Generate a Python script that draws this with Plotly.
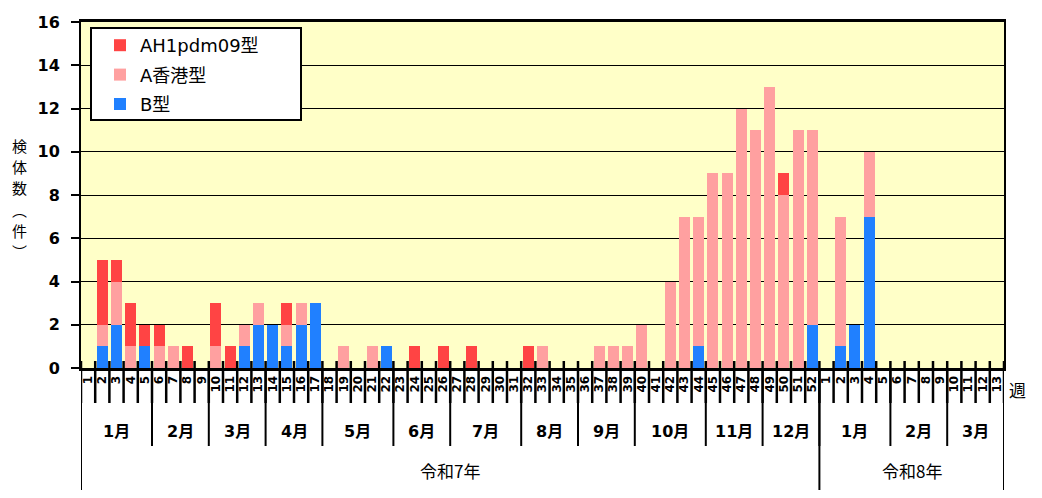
import plotly.graph_objects as go

# ---- data ----
week_labels_2025 = [str(w) for w in range(1, 53)]
week_labels_2026 = [str(w) for w in range(1, 14)]
week_labels = week_labels_2025 + week_labels_2026

B_2025 = [0, 1, 2, 0, 1, 0, 0, 0, 0, 0,
          0, 1, 2, 2, 1, 2, 3, 0, 0, 0,
          0, 1, 0, 0, 0, 0, 0, 0, 0, 0,
          0, 0, 0, 0, 0, 0, 0, 0, 0, 0,
          0, 0, 0, 1, 0, 0, 0, 0, 0, 0,
          0, 2]
HK_2025 = [0, 1, 2, 1, 0, 1, 1, 0, 0, 1,
           0, 1, 1, 0, 1, 1, 0, 0, 1, 0,
           1, 0, 0, 0, 0, 0, 0, 0, 0, 0,
           0, 0, 1, 0, 0, 0, 1, 1, 1, 2,
           0, 4, 7, 6, 9, 9, 12, 11, 13, 8,
           11, 9]
H1_2025 = [0, 3, 1, 2, 1, 1, 0, 1, 0, 2,
           1, 0, 0, 0, 1, 0, 0, 0, 0, 0,
           0, 0, 0, 1, 0, 1, 0, 1, 0, 0,
           0, 1, 0, 0, 0, 0, 0, 0, 0, 0,
           0, 0, 0, 0, 0, 0, 0, 0, 0, 1,
           0, 0]
B_2026 = [0, 1, 2, 7, 0, 0, 0, 0, 0, 0, 0, 0, 0]
HK_2026 = [0, 6, 0, 3, 0, 0, 0, 0, 0, 0, 0, 0, 0]
H1_2026 = [0, 0, 0, 0, 0, 0, 0, 0, 0, 0, 0, 0, 0]

B_vals = B_2025 + B_2026
HK_vals = HK_2025 + HK_2026
H1_vals = H1_2025 + H1_2026

months = [("1月", 5), ("2月", 4), ("3月", 4), ("4月", 4), ("5月", 5), ("6月", 4),
          ("7月", 5), ("8月", 4), ("9月", 4), ("10月", 5), ("11月", 4), ("12月", 4),
          ("1月", 5), ("2月", 4), ("3月", 4)]
years = [("令和7年", 52), ("令和8年", 13)]
y_title_chars = ["検", "体", "数", "︵", "件", "︶"]

series_names = ["B型", "A香港型", "AH1pdm09型"]
series_colors = ["#2080FF", "#FFA0A0", "#FF4444"]

# ---- figure ----
W, H = 1042, 498
ml, mr, mt, mb = 81, 38, 22, 130
pw, ph = W - ml - mr, H - mt - mb

xs = list(range(len(week_labels)))
fig = go.Figure()
nser = len(series_names)
for k, (name, vals, col) in enumerate(zip(series_names, [B_vals, HK_vals, H1_vals], series_colors)):
    fig.add_trace(go.Bar(x=xs, y=vals, name=name, legendgroup=f"g{k}",
                         legendrank=1000 + nser - k,
                         marker=dict(color=col, line=dict(width=0))))

JP = "Noto Sans CJK JP"
NUM = "DejaVu Sans"

shapes = []
annotations = []

def py(px_below):
    return -px_below / ph

# week separators (crossing the axis)
for i in range(len(week_labels) + 1):
    shapes.append(dict(type="line", xref="x", yref="paper", x0=i - 0.5, x1=i - 0.5,
                       y0=py(35), y1=7 / ph, line=dict(color="black", width=2.5)))
# month dividers + labels
pos = 0
for name, n in months:
    annotations.append(dict(x=pos + (n - 1) / 2, y=py(64), xref="x", yref="paper",
                            text=name, showarrow=False, yanchor="middle",
                            font=dict(family=NUM + ", " + JP, size=16, color="black", weight="bold")))
    pos += n
    shapes.append(dict(type="line", xref="x", yref="paper", x0=pos - 0.5, x1=pos - 0.5,
                       y0=py(78), y1=0, line=dict(color="black", width=2)))
# year dividers + labels
pos = 0
shapes.append(dict(type="line", xref="x", yref="paper", x0=-0.5, x1=-0.5,
                   y0=py(122), y1=0, line=dict(color="black", width=2)))
for name, n in years:
    annotations.append(dict(x=pos + (n - 1) / 2, y=py(102), xref="x", yref="paper",
                            text=name, showarrow=False, yanchor="middle",
                            font=dict(family=JP, size=17, color="black")))
    pos += n
    shapes.append(dict(type="line", xref="x", yref="paper", x0=pos - 0.5, x1=pos - 0.5,
                       y0=py(122), y1=0, line=dict(color="black", width=2)))

# legend box
lx0, ly0, lx1, ly1 = 91, 28, 301, 120
shapes.append(dict(type="rect", xref="paper", yref="paper",
                   x0=(lx0 - ml) / pw, x1=(lx1 - ml) / pw,
                   y0=1 - (ly1 - mt) / ph, y1=1 - (ly0 - mt) / ph,
                   fillcolor="white", line=dict(color="black", width=2), layer="above"))

# y axis title (vertical, one character per line)
for j, ch in enumerate(y_title_chars):
    annotations.append(dict(x=(19 - ml) / pw, y=1 - (146 + 21 * j - mt) / ph,
                            xref="paper", yref="paper", text=ch, showarrow=False,
                            xanchor="center", yanchor="middle",
                            font=dict(family=JP, size=15, color="black")))
# 週
annotations.append(dict(x=(1017 - ml) / pw, y=py(21), xref="paper", yref="paper",
                        text="週", showarrow=False, xanchor="center", yanchor="middle",
                        font=dict(family=JP, size=17, color="black")))

fig.update_layout(
    width=W, height=H,
    margin=dict(l=ml, r=mr, t=mt, b=mb, autoexpand=False),
    barmode="stack", bargap=0.23,
    paper_bgcolor="white", plot_bgcolor="#FFFFC8",
    showlegend=True,
    legend=dict(x=(100 - ml) / pw, y=1 - (27 - mt) / ph, xanchor="left", yanchor="top",
                bgcolor="rgba(0,0,0,0)", borderwidth=0, traceorder="grouped",
                tracegroupgap=3,
                font=dict(family=NUM + ", " + JP, size=18, color="black")),
    xaxis=dict(range=[-0.5, len(week_labels) - 0.5], tickmode="array", tickvals=xs,
               ticktext=week_labels, tickangle=-90, ticks="", showgrid=False, automargin=False,
               showline=True, linecolor="black", linewidth=3, mirror=True, zeroline=False,
               tickfont=dict(family=NUM, size=12, color="black", weight="bold")),
    yaxis=dict(range=[0, 16], dtick=2, tick0=0, showgrid=True, gridcolor="black",
               gridwidth=1, ticks="outside", ticklen=8, tickwidth=2, tickcolor="black",
               automargin=False, ticklabelstandoff=8,
               showline=True, linecolor="black", linewidth=2, mirror=True, zeroline=False,
               tickfont=dict(family=NUM, size=16, color="black", weight="bold")),
    shapes=shapes, annotations=annotations,
)
fig.write_html("out.html", config={"displayModeBar": False},
               post_script="document.body.style.margin='0';")
